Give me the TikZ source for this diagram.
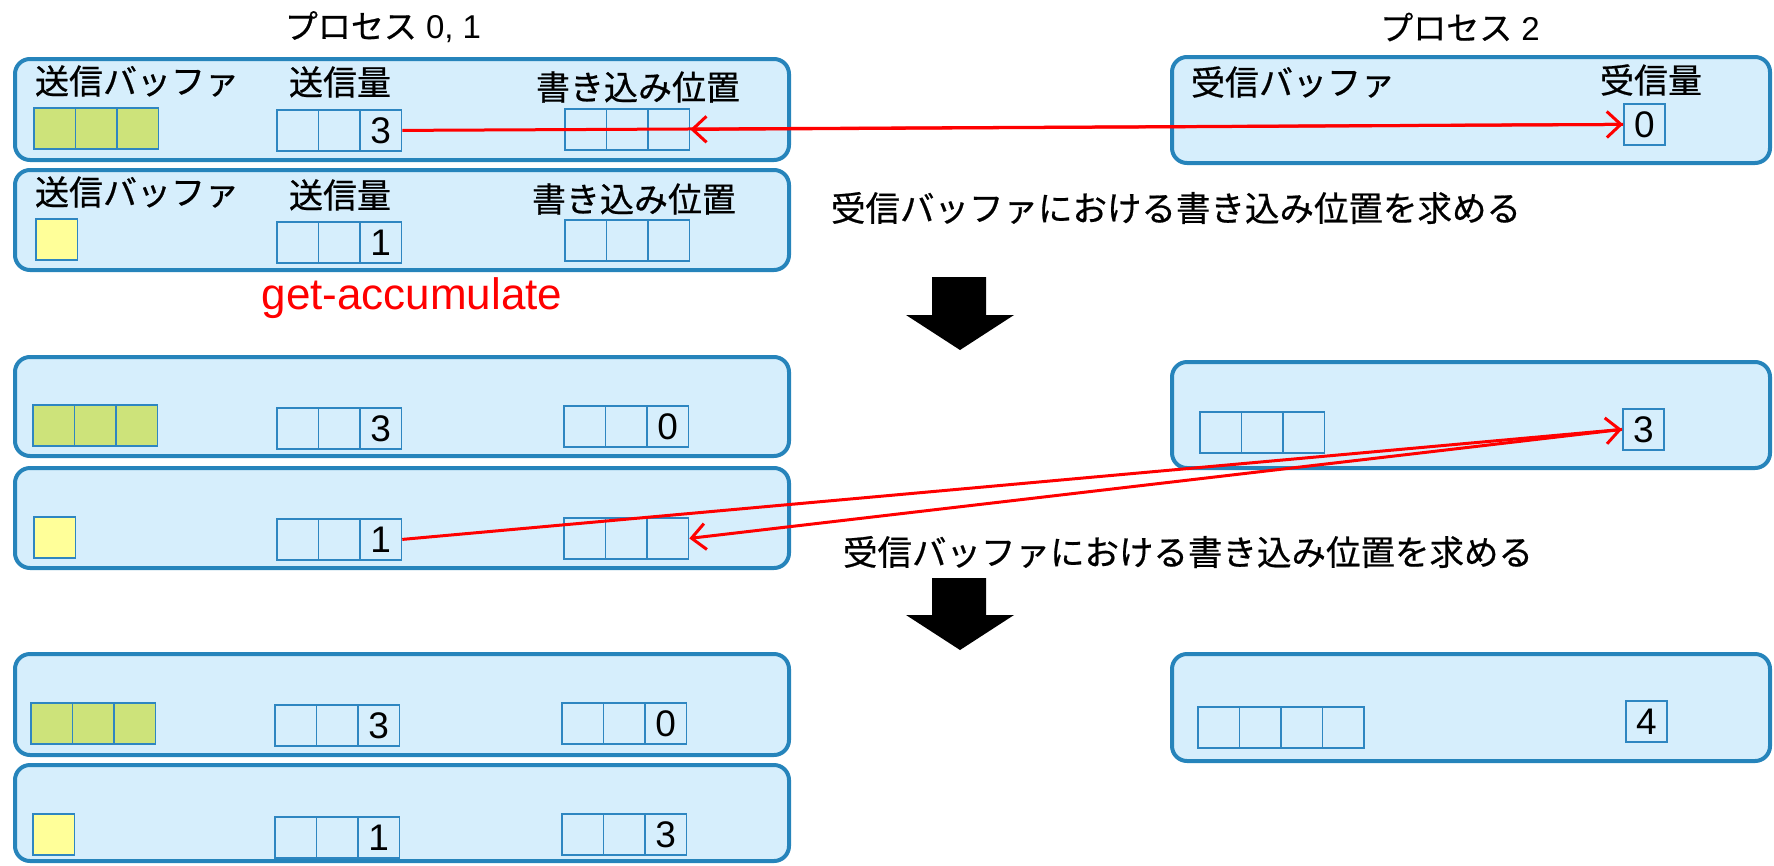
\documentclass[tikz,border=0pt]{standalone}
\usepackage{fontspec}
\setmainfont{Liberation Sans}
\newfontfamily\jp[FakeBold=0.6]{Noto Sans CJK JP}
\usetikzlibrary{arrows.meta}
\definecolor{boxline}{RGB}{38,132,187}
\definecolor{boxfill}{RGB}{214,238,252}
\definecolor{cellline}{RGB}{46,134,193}
\definecolor{sgreen}{RGB}{205,227,122}
\definecolor{syellow}{RGB}{255,255,153}
\newcommand\cellrow[6]{%
  \foreach \i in {1,...,#4}{%
    \ifnum\i=#4\relax
      \node[cell,fill=#5] (#1\i) at ({#2+41.5*(\i-1)},#3) {#6};
    \else
      \node[cell,fill=#5] (#1\i) at ({#2+41.5*(\i-1)},#3) {};
    \fi
  }%
}
\begin{document}
\begin{tikzpicture}[x=1pt,y=-1pt,
  procbox/.style={draw=boxline,fill=boxfill,line width=4pt,rounded corners=15pt,inner sep=0pt,outer sep=0pt},
  cell/.style={draw=cellline,line width=1.8pt,minimum width=41.5pt,minimum height=41pt,inner sep=0pt,anchor=north west,font=\fontsize{37}{40}\selectfont},
  lbl/.style={font=\jp\fontsize{34}{38}\selectfont,inner sep=0pt},
  ttl/.style={font=\fontsize{33}{38}\selectfont,inner sep=0pt},
  note/.style={font=\jp\fontsize{34.5}{38}\selectfont,inner sep=0pt},
  redarr/.style={draw=red,line width=3pt,-{Straight Barb[length=14pt,width=26pt]}},
  bigarrow/.style={fill=black}]
\useasboundingbox (0,0) rectangle (1774,865);

% titles
\node[ttl] (t01) at (383,27) {{\jp プロセス} 0, 1};
\node[ttl] (t2) at (1460,27) {{\jp プロセス} 2};

% process boxes
\node[procbox,minimum width=774pt,minimum height=101pt] (A1) at (402,109.5) {};
\node[procbox,minimum width=774pt,minimum height=100pt] (A2) at (402,220) {};
\node[procbox,minimum width=598pt,minimum height=106pt] (B) at (1471,110) {};
\node[procbox,minimum width=774pt,minimum height=99pt] (C1) at (402,406.5) {};
\node[procbox,minimum width=774pt,minimum height=100pt] (C2) at (402,518) {};
\node[procbox,minimum width=598pt,minimum height=106pt] (D) at (1471,415) {};
\node[procbox,minimum width=774pt,minimum height=101pt] (E1) at (402,704.5) {};
\node[procbox,minimum width=774pt,minimum height=96pt] (E2) at (402,813) {};
\node[procbox,minimum width=598pt,minimum height=107pt] (F) at (1471,707.5) {};

% labels
\node[lbl] (A1l1) at (137,81) {送信バッファ};
\node[lbl] (A1l2) at (340,82) {送信量};
\node[lbl] (A1l3) at (638,87) {書き込み位置};
\node[lbl] (A2l1) at (137,192) {送信バッファ};
\node[lbl] (A2l2) at (340,195) {送信量};
\node[lbl] (A2l3) at (634,199) {書き込み位置};
\node[lbl] (Bl1) at (1293,82) {受信バッファ};
\node[lbl] (Bl2) at (1651,80) {受信量};

% cells, top stage
\cellrow{A1g}{33}{107}{3}{sgreen}{}
\cellrow{A1s}{276}{109}{3}{boxfill}{3}
\cellrow{A1w}{564}{108}{3}{boxfill}{}
\cellrow{A2g}{35}{218}{1}{syellow}{}
\cellrow{A2s}{276}{221}{3}{boxfill}{1}
\cellrow{A2w}{564}{219}{3}{boxfill}{}
\node[cell,fill=boxfill,minimum width=41pt] (Bv) at (1623,103) {0};

% cells, middle stage
\cellrow{C1g}{32}{404}{3}{sgreen}{}
\cellrow{C1s}{276}{407}{3}{boxfill}{3}
\cellrow{C1w}{563}{405}{3}{boxfill}{0}
\cellrow{C2g}{33}{516}{1}{syellow}{}
\cellrow{C2s}{276}{518}{3}{boxfill}{1}
\cellrow{C2w}{563}{517}{3}{boxfill}{}
\cellrow{Dr}{1199}{411}{3}{boxfill}{}
\node[cell,fill=boxfill,minimum width=41pt] (Dv) at (1622,408) {3};

% cells, bottom stage
\cellrow{E1g}{30}{702}{3}{sgreen}{}
\cellrow{E1s}{274}{704}{3}{boxfill}{3}
\cellrow{E1w}{561}{702}{3}{boxfill}{0}
\cellrow{E2g}{32}{813}{1}{syellow}{}
\cellrow{E2s}{274}{816}{3}{boxfill}{1}
\cellrow{E2w}{561}{813}{3}{boxfill}{3}
\cellrow{Fr}{1197}{706}{4}{boxfill}{}
\node[cell,fill=boxfill,minimum width=41pt] (Fv) at (1625,700) {4};

% texts
\node[font=\fontsize{44}{48}\selectfont,text=red,inner sep=0pt,anchor=base] (ga) at (412,309) {get-accumulate};
\node[note] (n1) at (1176,208) {受信バッファにおける書き込み位置を求める};
\node[note] (n2) at (1188,552) {受信バッファにおける書き込み位置を求める};

% block arrows
\fill[bigarrow] (932,277) -- (986,277) -- (986,315) -- (1014,315) -- (960,350) -- (906,315) -- (932,315) -- cycle;
\fill[bigarrow] (932,578) -- (986,578) -- (986,615) -- (1014,615) -- (960,650) -- (906,615) -- (932,615) -- cycle;

% red connectors
\draw[redarr] (A1s3.east) -- (Bv.west);
\draw[redarr] (Bv.west) -- (A1w3.east);
\draw[redarr] (C2s3.east) -- (Dv.west);
\draw[redarr] (Dv.west) -- (C2w3.east);
\end{tikzpicture}
\end{document}
